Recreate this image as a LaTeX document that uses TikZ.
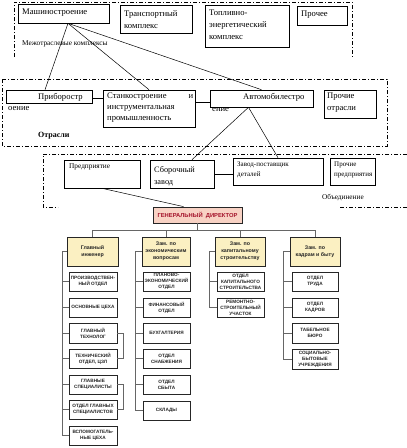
\documentclass[tikz,border=0pt]{standalone}
\usepackage{fontspec}
\setmainfont{Liberation Serif}
\newfontfamily\orgfont{Liberation Sans}
\usetikzlibrary{shadows,calc}
\definecolor{dirpink}{HTML}{F8D2C4}
\definecolor{dirred}{HTML}{A3122A}
\definecolor{depyel}{HTML}{FBF0C2}
\newcommand\Bx[7]{\node[#1, minimum width={(#5-#3)*1pt}, minimum height={(#6-#4)*1pt}] (#2) at ({(#3+#5)/2},{(#4+#6)/2}) {#7};}
\begin{document}
\begin{tikzpicture}[x=1pt,y=-1pt,
  ubox/.style={draw, line width=0.6pt, inner sep=0pt},
  utxt/.style={inner sep=0pt, anchor=north west, align=left, font=\fontsize{8.6}{12}\selectfont},
  stxt/.style={inner sep=0pt, anchor=north west, align=left, font=\fontsize{7.3}{10}\selectfont},
  dd/.style={line width=0.6pt, dash pattern=on 4pt off 2pt on 1pt off 2pt},
  conn/.style={line width=0.5pt},
  dirbox/.style={draw=black!85, line width=0.8pt, fill=dirpink, inner sep=0pt, text=dirred, align=center,
     font=\orgfont\bfseries\fontsize{5.8}{6.5}\selectfont,
     drop shadow={shadow xshift=0.8pt, shadow yshift=-0.8pt, opacity=0.8, fill=black!70}},
  depbox/.style={draw=black!85, line width=0.8pt, fill=depyel, inner sep=0pt, text=black!85, align=center,
     font=\orgfont\bfseries\fontsize{5.3}{7}\selectfont,
     drop shadow={shadow xshift=0.8pt, shadow yshift=-0.8pt, opacity=0.8, fill=black!70}},
  chbox/.style={draw=black!85, line width=0.7pt, fill=white, inner sep=0pt, text=black!85, align=center,
     font=\orgfont\bfseries\fontsize{4.7}{6}\selectfont,
     drop shadow={shadow xshift=0.6pt, shadow yshift=-0.6pt, opacity=0.8, fill=black!60}},
  org/.style={draw=black!60, line width=0.8pt}
]
\useasboundingbox (0,0) rectangle (407,448);
% ---------- dash-dot frames ----------
\draw[dd] (14,57) -- (14,2) -- (352,2) -- (352,57);
\draw[dd] (2,79) rectangle (387,146);
\draw[dd] (407,154) -- (43,154) -- (43,207) -- (58,207);
\draw[dd] (340,207) -- (407,207);
% ---------- top level ----------
\Bx{ubox}{mash}{18}{4}{109}{23}{}
\Bx{ubox}{trans}{120}{5}{192}{33}{}
\Bx{ubox}{topl}{205}{5}{289}{47}{}
\Bx{ubox}{proch}{297}{6}{347}{25}{}
\node[utxt] (tmash) at (22,9) {Машиностроение};
\node[utxt] (ttrans) at (124,10) {Транспортный\\комплекс};
\node[utxt] (ttopl) at (209,10) {Топливно-\\энергетический\\комплекс};
\node[utxt] (tproch) at (301,11) {Прочее};
\node[stxt] (lmezh) at (22,41) {Межотраслевые комплексы};
% ---------- branches ----------
\Bx{ubox}{prib}{6}{90}{92}{103}{}
\Bx{ubox}{stank}{103}{90}{195}{127}{}
\Bx{ubox}{auto}{210}{90}{313}{107}{}
\Bx{ubox}{potr}{324}{90}{376}{118}{}
\node[utxt] (tprib) at (38,93) {Приборостр};
\node[utxt] (tprib2) at (8,106) {оение};
\node[utxt, text width=86pt, font=\fontsize{8.6}{10.8}\selectfont] (tstank) at (107,93) {Станкостроение\hfill и\\инструментальная\\промышленность};
\node[utxt] (tauto) at (243,93) {Автомобилестро};
\node[utxt] (tauto2) at (212,107) {ение};
\node[utxt] (tpotr) at (327,93) {Прочие\\отрасли};
\node[utxt, font=\bfseries\fontsize{8}{11}\selectfont] (lotr) at (38,132) {Отрасли};
% ---------- enterprises ----------
\Bx{ubox}{pred}{64}{160}{140}{188}{}
\Bx{ubox}{sbor}{150}{160}{214}{188}{}
\Bx{ubox}{zavod}{233}{158}{323}{185}{}
\Bx{ubox}{ppred}{330}{158}{375}{185}{}
\node[stxt] (tpred) at (69,164) {Предприятие};
\node[utxt, font=\fontsize{8.3}{12}\selectfont] (tsbor) at (154,166) {Сборочный\\завод};
\node[stxt, font=\fontsize{7}{10}\selectfont] (tzavod) at (237,162) {Завод-поставщик\\деталей};
\node[stxt, font=\fontsize{7}{10}\selectfont] (tppred) at (334,162) {Прочие\\предприятия};
\node[stxt] (lobed) at (322,194) {Объединение};
% ---------- upper connectors ----------
\draw[conn] ([xshift=4.5pt]mash.south) -- ([xshift=-4pt]prib.north);
\draw[conn] ([xshift=4.5pt]mash.south) -- (stank.north);
\draw[conn] ([xshift=4.5pt]mash.south) -- (auto.north);
\draw[conn] ([yshift=-1.5pt]prib.east) -- ([yshift=-1.5pt]prib.east -| stank.west);
\draw[conn] ([yshift=-3.5pt]auto.west -| stank.east) -- ([yshift=-3.5pt]auto.west);
\draw[conn] ([xshift=-13pt]auto.south) -- ([xshift=10pt]sbor.north);
\draw[conn] ([xshift=-13pt]auto.south) -- (zavod.north);
\draw[conn] ([yshift=-3pt]zavod.west -| sbor.east) -- ([yshift=-3pt]zavod.west);
% ---------- org chart ----------
\Bx{dirbox}{dir}{153}{207}{242}{223}{ГЕНЕРАЛЬНЫЙ\ \ ДИРЕКТОР}
\draw[conn] (pred.south) -- ([xshift=-14pt]dir.north);
\Bx{depbox}{d1}{67}{237}{118}{266}{Главный\\инженер}
\Bx{depbox}{d2}{142}{237}{190}{266}{Зам. по\\экономическим\\вопросам}
\Bx{depbox}{d3}{215}{237}{265}{266}{Зам. по\\капитальному\\строительству}
\Bx{depbox}{d4}{290}{237}{340}{266}{Зам. по\\кадрам и быту}
\coordinate (bus) at (0,230);
\draw[org] (dir.south) -- (dir.south |- bus);
\draw[org] (d1.north |- bus) -- (d4.north |- bus);
\foreach \d in {d1,d2,d3,d4} \draw[org] (\d.north |- bus) -- (\d.north);
% column 1
\Bx{chbox}{a1}{69}{272}{117}{291}{ПРОИЗВОДСТВЕН-\\НЫЙ ОТДЕЛ}
\Bx{chbox}{a2}{69}{298}{117}{317}{ОСНОВНЫЕ ЦЕХА}
\Bx{chbox}{a3}{69}{323}{117}{343}{ГЛАВНЫЙ\\ТЕХНОЛОГ}
\Bx{chbox}{a4}{69}{349}{117}{368}{ТЕХНИЧЕСКИЙ\\ОТДЕЛ, ЦЗЛ}
\Bx{chbox}{a5}{69}{375}{117}{394}{ГЛАВНЫЕ\\СПЕЦИАЛИСТЫ}
\Bx{chbox}{a6}{69}{400}{117}{419}{ОТДЕЛ ГЛАВНЫХ\\СПЕЦИАЛИСТОВ}
\Bx{chbox}{a7}{69}{426}{117}{445}{ВСПОМОГАТЕЛЬ-\\НЫЕ ЦЕХА}
\coordinate (s1) at (62,0);
\draw[org] (d1.west) -- (d1.west -| s1) -- (a7.west -| s1) -- (a7.west);
\foreach \c in {a1,a2,a3,a4,a5,a6} \draw[org] (\c.west -| s1) -- (\c.west);
\draw[org] (a3.east) -- ++(6,0) |- (a4.east);
\draw[org] (a5.east) -- ++(6,0) |- (a6.east);
% column 2
\Bx{chbox}{b1}{143}{272}{190}{291}{ПЛАНОВО-\\ЭКОНОМИЧЕСКИЙ\\ОТДЕЛ}
\Bx{chbox}{b2}{143}{298}{190}{317}{ФИНАНСОВЫЙ\\ОТДЕЛ}
\Bx{chbox}{b3}{143}{323}{190}{343}{БУХГАЛТЕРИЯ}
\Bx{chbox}{b4}{143}{349}{190}{368}{ОТДЕЛ\\СНАБЖЕНИЯ}
\Bx{chbox}{b5}{143}{375}{190}{394}{ОТДЕЛ\\СБЫТА}
\Bx{chbox}{b6}{143}{401}{190}{420}{СКЛАДЫ}
\coordinate (s2) at (135,0);
\draw[org] (d2.west) -- (d2.west -| s2) -- (b6.west -| s2) -- (b6.west);
\foreach \c in {b1,b2,b3,b4,b5} \draw[org] (\c.west -| s2) -- (\c.west);
% column 3
\Bx{chbox}{c1}{217}{272}{264}{291}{ОТДЕЛ\\КАПИТАЛЬНОГО\\СТРОИТЕЛЬСТВА}
\Bx{chbox}{c2}{217}{298}{264}{317}{РЕМОНТНО-\\СТРОИТЕЛЬНЫЙ\\УЧАСТОК}
\coordinate (s3) at (209,0);
\draw[org] (d3.west) -- (d3.west -| s3) -- (c2.west -| s3) -- (c2.west);
\draw[org] (c1.west -| s3) -- (c1.west);
% column 4
\Bx{chbox}{e1}{292}{272}{338}{291}{ОТДЕЛ\\ТРУДА}
\Bx{chbox}{e2}{292}{298}{338}{317}{ОТДЕЛ\\КАДРОВ}
\Bx{chbox}{e3}{292}{323}{338}{343}{ТАБЕЛЬНОЕ\\БЮРО}
\Bx{chbox}{e4}{292}{349}{338}{369}{СОЦИАЛЬНО-\\БЫТОВЫЕ\\УЧРЕЖДЕНИЯ}
\coordinate (s4) at (283,0);
\draw[org] (d4.west) -- (d4.west -| s4) -- (e4.west -| s4) -- (e4.west);
\foreach \c in {e1,e2,e3} \draw[org] (\c.west -| s4) -- (\c.west);
\end{tikzpicture}
\end{document}
